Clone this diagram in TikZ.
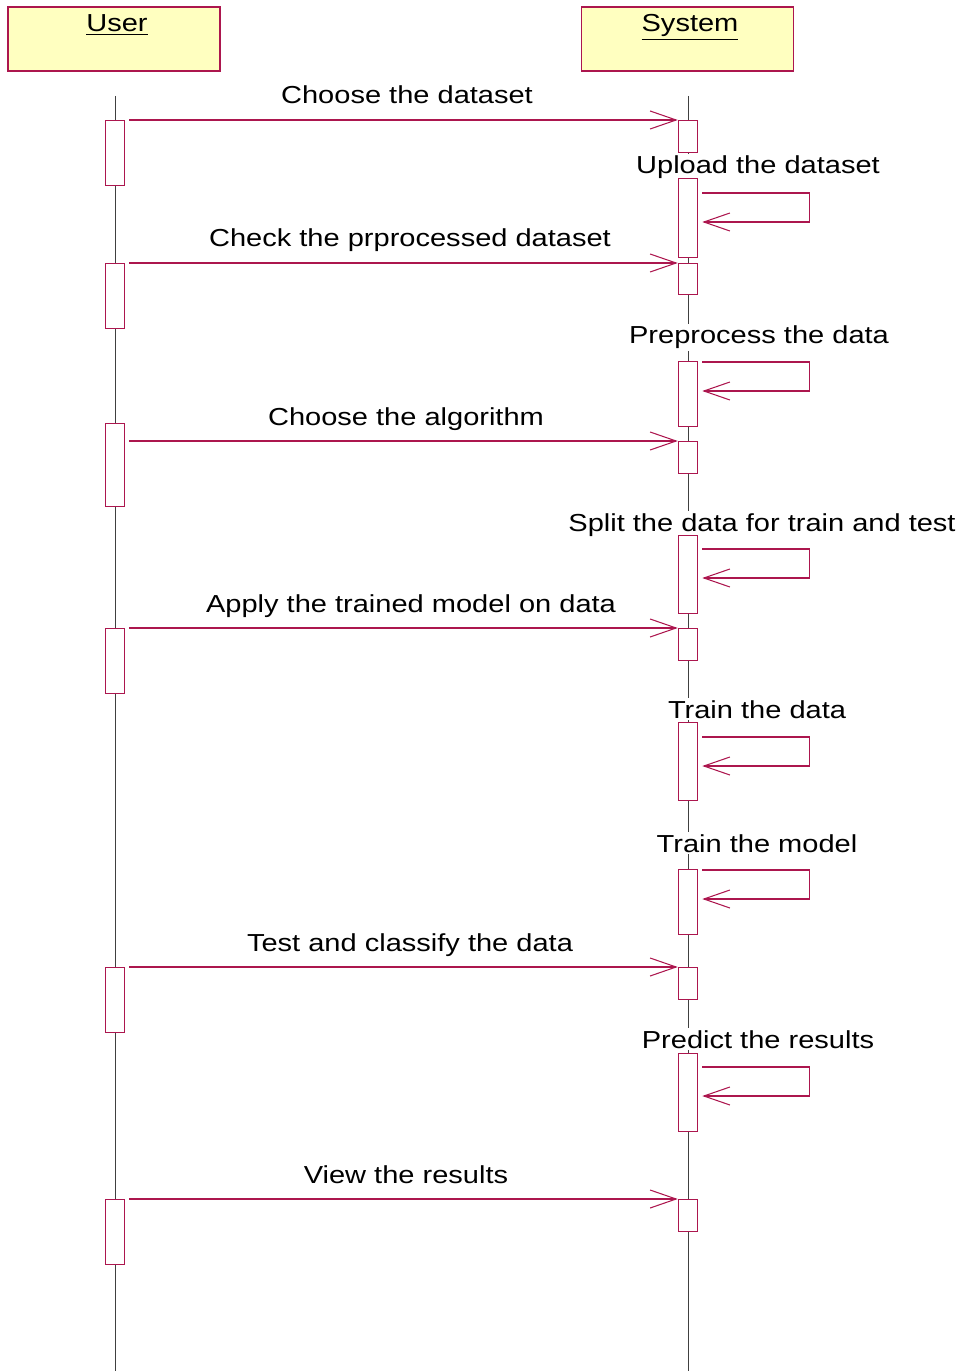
\documentclass[tikz,border=0pt]{standalone}
\usepackage{fontspec}
\setmainfont{Liberation Sans}
\usepackage{tikz}
\usetikzlibrary{arrows.meta}
\usetikzlibrary{positioning}
\definecolor{umlred}{RGB}{172,22,78}
\definecolor{umlyellow}{RGB}{255,255,192}
\newcommand{\stretched}[1]{\scalebox{1.18}[1]{#1}}
\tikzset{head/.style={draw=umlred, fill=umlyellow, line width=0.6pt, minimum width=4.24cm, minimum height=1.28cm, inner sep=0pt}}
\tikzset{life/.style={draw=black!75, line width=0.5pt}}
\tikzset{act/.style={draw=umlred, fill=white, line width=0.6pt, minimum width=0.39cm, inner sep=0pt, anchor=north}}
\tikzset{msg/.style={draw=umlred, line width=0.6pt, -{Straight Barb[length=0.52cm,width=0.36cm]}}}
\tikzset{lbl/.style={font=\fontsize{14}{17}\selectfont, inner sep=0pt, anchor=base}}
\tikzset{selflbl/.style={lbl, fill=white, inner sep=1pt}}

\begin{document}
\begin{tikzpicture}[x=0.02cm, y=-0.02cm]
	\useasboundingbox (0,0) rectangle (964,1371);

	% HEADS
	\node[head] (user) at (114,39) {};
	\node[head] (system) at (687.5,39) {};
	\node[lbl] (user title) at (117,32) {\stretched{\underline{User}}};
	\node[lbl] (system title) at (690,32) {\stretched{\underline{System}}};

	% lifelines
	\coordinate (user top) at (115,96);		\coordinate (user end) at (115,1371);
	\coordinate (system top) at (688,96);	\coordinate (system end) at (688,1371);
	\draw[life] (user top) -- (user end);
	\draw[life] (system top) -- (system end);

	% Self call labels (over the lifeline)
	\node[selflbl] (c1) at (758,174) {\stretched{Upload the dataset}};
	\node[selflbl] (c2) at (759,344) {\stretched{Preprocess the data}};
	\node[selflbl] (c3) at (762,531) {\stretched{Split the data for train and test}};
	\node[selflbl] (c4) at (757,718) {\stretched{Train the data}};
	\node[selflbl] (c5) at (757,852) {\stretched{Train the model}};
	\node[selflbl] (c6) at (758,1048) {\stretched{Predict the results}};

	% USER activations
	\node[act, minimum height=1.30cm] (u1) at (115,120) {};
	\node[act, minimum height=1.30cm] (u2) at (115,263) {};
	\node[act, minimum height=1.66cm] (u3) at (115,423) {};
	\node[act, minimum height=1.30cm] (u4) at (115,628) {};
	\node[act, minimum height=1.30cm] (u5) at (115,967) {};
	\node[act, minimum height=1.30cm] (u6) at (115,1199) {};

	% SYSTEM activations
	\node[act, minimum height=0.64cm] (s1) at (688,120) {};
	\node[act, minimum height=1.58cm] (s2) at (688,178) {};
	\node[act, minimum height=0.62cm] (s3) at (688,263) {};
	\node[act, minimum height=1.30cm] (s4) at (688,361) {};
	\node[act, minimum height=0.64cm] (s5) at (688,441) {};
	\node[act, minimum height=1.56cm] (s6) at (688,535) {};
	\node[act, minimum height=0.64cm] (s7) at (688,628) {};
	\node[act, minimum height=1.56cm] (s8) at (688,722) {};
	\node[act, minimum height=1.30cm] (s9) at (688,869) {};
	\node[act, minimum height=0.64cm] (s10) at (688,967) {};
	\node[act, minimum height=1.56cm] (s11) at (688,1053) {};
	\node[act, minimum height=0.64cm] (s12) at (688,1199) {};

	% Messages
	\draw[msg] ([xshift=0.08cm]u1.east |- s1.north) -- (s1.north west);
	\draw[msg] ([xshift=0.08cm]u2.east |- s3.north) -- (s3.north west);
	\draw[msg] ([xshift=0.08cm]u3.east |- s5.north) -- (s5.north west);
	\draw[msg] ([xshift=0.08cm]u4.east |- s7.north) -- (s7.north west);
	\draw[msg] ([xshift=0.08cm]u5.east |- s10.north) -- (s10.north west);
	\draw[msg] ([xshift=0.08cm]u6.east |- s12.north) -- (s12.north west);

	\node[lbl] (m1) at (407,104) {\stretched{Choose the dataset}};
	\node[lbl] (m2) at (410,247) {\stretched{Check the prprocessed dataset}};
	\node[lbl] (m3) at (406,425) {\stretched{Choose the algorithm}};
	\node[lbl] (m4) at (411,612) {\stretched{Apply the trained model on data}};
	\node[lbl] (m5) at (410,951) {\stretched{Test and classify the data}};
	\node[lbl] (m6) at (406,1183) {\stretched{View the results}};

	% Self calls
	\draw[msg] ([shift={(4,15)}]s2.north east) -- ++(107,0) -- ++(0,29) -- ++(-107,0);
	\draw[msg] ([shift={(4,1)}]s4.north east) -- ++(107,0) -- ++(0,29) -- ++(-107,0);
	\draw[msg] ([shift={(4,14)}]s6.north east) -- ++(107,0) -- ++(0,29) -- ++(-107,0);
	\draw[msg] ([shift={(4,15)}]s8.north east) -- ++(107,0) -- ++(0,29) -- ++(-107,0);
	\draw[msg] ([shift={(4,1)}]s9.north east) -- ++(107,0) -- ++(0,29) -- ++(-107,0);
	\draw[msg] ([shift={(4,14)}]s11.north east) -- ++(107,0) -- ++(0,29) -- ++(-107,0);
\end{tikzpicture}
\end{document}
